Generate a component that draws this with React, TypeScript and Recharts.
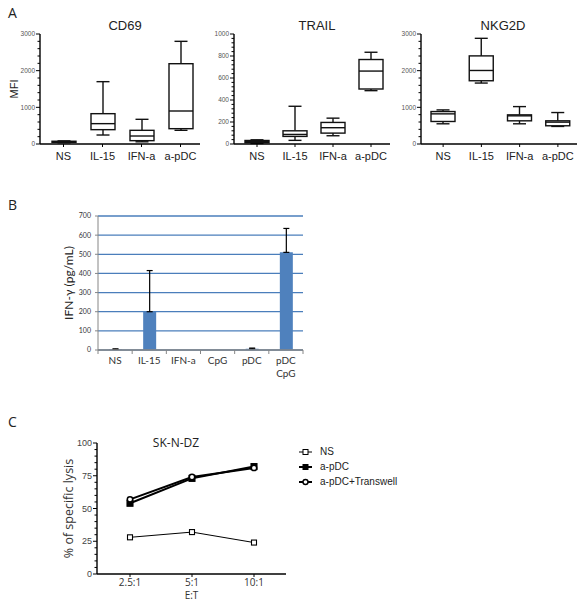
import React from 'react';
import {
  ComposedChart,
  Bar,
  Line,
  XAxis,
  YAxis,
  CartesianGrid,
  ErrorBar,
  Legend,
} from 'recharts';

// ---------- Panel A: surface marker MFI (box plots) ----------
const boxCategories = ['NS', 'IL-15', 'IFN-a', 'a-pDC'];

const cd69Min = [35, 245, 60, 373];
const cd69Q1 = [45, 391, 91, 418];
const cd69Median = [60, 555, 218, 900];
const cd69Q3 = [75, 827, 373, 2190];
const cd69Max = [85, 1700, 673, 2800];

const trailMin = [5, 33, 75, 485];
const trailQ1 = [12, 69, 99, 500];
const trailMedian = [22, 87, 148, 663];
const trailQ3 = [32, 120, 196, 768];
const trailMax = [38, 343, 235, 834];

const nkg2dMin = [551, 1662, 551, 479];
const nkg2dQ1 = [614, 1725, 632, 497];
const nkg2dMedian = [822, 2005, 768, 596];
const nkg2dQ3 = [885, 2403, 795, 632];
const nkg2dMax = [930, 2882, 1020, 858];

const mfiTicks3000 = [0, 200, 400, 600, 800, 1000, 1200, 1400, 1600, 1800, 2000, 2200, 2400, 2600, 2800, 3000];
const mfiLabels3000 = [0, 1000, 2000, 3000];
const mfiTicks1000 = [0, 40, 80, 120, 160, 200, 240, 280, 320, 360, 400, 440, 480, 520, 560, 600, 640, 680, 720, 760, 800, 840, 880, 920, 960, 1000];
const mfiLabels1000 = [0, 200, 400, 600, 800, 1000];

// ---------- Panel B: IFN-gamma secretion ----------
const ifnCategories = ['NS', 'IL-15', 'IFN-a', 'CpG', 'pDC', 'pDC CpG'];
const ifnMeans = [3, 200, 0, 0, 6, 510];
const ifnErrorUp: (number | null)[] = [3, 215, null, null, 4, 125];
const ifnTicks = [0, 100, 200, 300, 400, 500, 600, 700];

// ---------- Panel C: specific lysis of SK-N-DZ ----------
const etRatios = ['2.5:1', '5:1', '10:1'];
const lysisNS = [28, 32, 24];
const lysisAPDC = [54, 73, 82];
const lysisTranswell = [57, 74, 81];
const lysisTicks = [0, 5, 10, 15, 20, 25, 30, 35, 40, 45, 50, 55, 60, 65, 70, 75, 80, 85, 90, 95, 100];
const lysisLabels = [0, 25, 50, 75, 100];

const ARIAL = '"Liberation Sans", Arial, sans-serif';
const CALIBRI = 'Lato, "Open Sans", sans-serif';
const SEGOE = '"Open Sans", "Noto Sans", sans-serif';

function boxRows(min: number[], q1: number[], median: number[], q3: number[], max: number[]) {
  return boxCategories.map((name, i) => ({
    name,
    min: min[i],
    q1: q1[i],
    median: median[i],
    q3: q3[i],
    max: max[i],
    range: [min[i], max[i]],
  }));
}

const cd69Rows = boxRows(cd69Min, cd69Q1, cd69Median, cd69Q3, cd69Max);
const trailRows = boxRows(trailMin, trailQ1, trailMedian, trailQ3, trailMax);
const nkg2dRows = boxRows(nkg2dMin, nkg2dQ1, nkg2dMedian, nkg2dQ3, nkg2dMax);

const ifnRows = ifnCategories.map((name, i) => ({
  name,
  mean: ifnMeans[i],
  err: ifnErrorUp[i] == null ? null : [0, ifnErrorUp[i] as number],
}));

const lysisRows = etRatios.map((name, i) => ({
  name,
  ns: lysisNS[i],
  apdc: lysisAPDC[i],
  transwell: lysisTranswell[i],
}));

// Box-and-whisker drawn inside the [min, max] range bar geometry
const BoxShape = (props: any) => {
  const { x, y, width, height, payload } = props;
  if (!payload) return null;
  const { min, q1, median, q3, max } = payload;
  const span = max - min;
  const ppu = span > 0 ? height / span : 0;
  const py = (v: number) => y + (max - v) * ppu;
  const cx = x + width / 2;
  const cap = 6.5;
  return (
    <g stroke="#111" strokeWidth={1.4} fill="none">
      <line x1={cx} x2={cx} y1={py(max)} y2={py(q3)} />
      <line x1={cx} x2={cx} y1={py(q1)} y2={py(min)} />
      <line x1={cx - cap} x2={cx + cap} y1={py(max)} y2={py(max)} />
      <line x1={cx - cap} x2={cx + cap} y1={py(min)} y2={py(min)} />
      <rect x={x} y={py(q3)} width={width} height={Math.max(py(q1) - py(q3), 0.5)} fill="#fff" />
      <line x1={x} x2={x + width} y1={py(median)} y2={py(median)} />
    </g>
  );
};

// Prism-style y tick: long ticks with labels, short minor ticks
const PrismYTick = (props: any) => {
  const { x, y, payload, labels, fontSize, color } = props;
  const major = labels.includes(payload.value);
  return (
    <g>
      <line x1={x} x2={x - (major ? 4 : 2.5)} y1={y} y2={y} stroke="#000" strokeWidth={1} />
      {major && (
        <text
          x={x - 5}
          y={y}
          dy="0.35em"
          textAnchor="end"
          fontSize={fontSize}
          fill={color}
          fontFamily={ARIAL}
        >
          {payload.value}
        </text>
      )}
    </g>
  );
};

type BoxPanelProps = {
  rows: any[];
  domain: [number, number];
  ticks: number[];
  labels: number[];
  axisX: number;
  plotWidth: number;
  padLeft: number;
  yLabel?: string;
};

function BoxPanel({ rows, domain, ticks, labels, axisX, plotWidth, padLeft, yLabel }: BoxPanelProps) {
  const yAxisW = 30;
  const marginLeft = 10;
  const width = marginLeft + yAxisW + plotWidth + 5;
  return (
    <div style={{ position: 'absolute', left: axisX - marginLeft - yAxisW, top: 0 }}>
      <ComposedChart
        width={width}
        height={170}
        data={rows}
        margin={{ top: 34, right: 5, bottom: 6, left: marginLeft }}
      >
        <XAxis
          dataKey="name"
          height={20}
          interval={0}
          padding={{ left: padLeft, right: 0 }}
          tickSize={3}
          tickMargin={5}
          axisLine={{ stroke: '#000', strokeWidth: 1.4 }}
          tickLine={{ stroke: '#000', strokeWidth: 1 }}
          tick={{ fontSize: 11, fill: '#222', fontFamily: ARIAL }}
        />
        <YAxis
          type="number"
          domain={domain}
          ticks={ticks}
          interval={0}
          width={yAxisW}
          tickSize={0}
          tickMargin={0}
          tickLine={false}
          axisLine={{ stroke: '#000', strokeWidth: 1.4 }}
          tick={(p: any) => <PrismYTick {...p} labels={labels} fontSize={6.5} color="#555" />}
          label={
            yLabel
              ? {
                  value: yLabel,
                  angle: -90,
                  position: 'insideLeft',
                  offset: 4,
                  fontSize: 11,
                  fill: '#222',
                  fontFamily: ARIAL,
                  style: { textAnchor: 'middle' },
                }
              : undefined
          }
        />
        <Bar dataKey="range" barSize={24} shape={<BoxShape />} isAnimationActive={false} />
      </ComposedChart>
    </div>
  );
}

// Excel-style category tick: boundary tick marks and wrapped labels
const ExcelXTick = (props: any) => {
  const { x, y, payload, index, visibleTicksCount } = props;
  const half = payload && typeof payload.offset === 'number' ? payload.offset : 17;
  const lines = String(payload.value).split(' ');
  return (
    <g>
      <line x1={x - half} x2={x - half} y1={y} y2={y + 4} stroke="#868686" strokeWidth={1} />
      {index === visibleTicksCount - 1 && (
        <line x1={x + half} x2={x + half} y1={y} y2={y + 4} stroke="#868686" strokeWidth={1} />
      )}
      <text x={x} y={y + 13.5} textAnchor="middle" fontSize={10} fill="#333" fontFamily={CALIBRI}>
        {lines.map((l, i) => (
          <tspan key={i} x={x} dy={i === 0 ? 0 : 13}>
            {l}
          </tspan>
        ))}
      </text>
    </g>
  );
};

const SquareDot = (props: any) => {
  const { cx, cy, size, filled } = props;
  if (cx == null || cy == null) return null;
  return (
    <rect
      x={cx - size / 2}
      y={cy - size / 2}
      width={size}
      height={size}
      fill={filled ? '#000' : '#fff'}
      stroke="#000"
      strokeWidth={1.1}
    />
  );
};

const CircleDot = (props: any) => {
  const { cx, cy } = props;
  if (cx == null || cy == null) return null;
  return <circle cx={cx} cy={cy} r={2.7} fill="#fff" stroke="#000" strokeWidth={1.5} />;
};

const lysisLegendItems = [
  { key: 'ns', name: 'NS', strokeWidth: 1 },
  { key: 'apdc', name: 'a-pDC', strokeWidth: 2 },
  { key: 'transwell', name: 'a-pDC+Transwell', strokeWidth: 2 },
];

const LysisLegend = () => (
  <div style={{ fontFamily: ARIAL, fontSize: 10, color: '#222' }}>
    {lysisLegendItems.map((item) => (
      <div key={item.key} style={{ display: 'flex', alignItems: 'center', height: 15 }}>
        <svg width={16} height={10} style={{ display: 'block' }}>
          <line x1={1} x2={14} y1={5} y2={5} stroke="#000" strokeWidth={item.strokeWidth} />
          {item.key === 'ns' && <rect x={5} y={2.5} width={5} height={5} fill="#fff" stroke="#000" strokeWidth={1} />}
          {item.key === 'apdc' && <rect x={4.5} y={2} width={6} height={6} fill="#000" />}
          {item.key === 'transwell' && <circle cx={7.5} cy={5} r={2.5} fill="#fff" stroke="#000" strokeWidth={1.4} />}
        </svg>
        <span style={{ marginLeft: 6, lineHeight: '15px' }}>{item.name}</span>
      </div>
    ))}
  </div>
);

export default function App() {
  return (
    <div
      style={{
        position: 'absolute',
        left: 0,
        top: 0,
        width: 586,
        height: 601,
        background: '#fff',
        overflow: 'hidden',
      }}
    >
      {/* Panel A */}
      <BoxPanel
        rows={cd69Rows}
        domain={[0, 3000]}
        ticks={mfiTicks3000}
        labels={mfiLabels3000}
        axisX={40}
        plotWidth={160}
        padLeft={4}
        yLabel="MFI"
      />
      <BoxPanel
        rows={trailRows}
        domain={[0, 1000]}
        ticks={mfiTicks1000}
        labels={mfiLabels1000}
        axisX={234}
        plotWidth={156}
        padLeft={4}
      />
      <BoxPanel
        rows={nkg2dRows}
        domain={[0, 3000]}
        ticks={mfiTicks3000}
        labels={mfiLabels3000}
        axisX={421}
        plotWidth={156}
        padLeft={3}
      />

      {/* Panel B */}
      <div style={{ position: 'absolute', left: 0, top: 190 }}>
        <ComposedChart
          width={320}
          height={200}
          data={ifnRows}
          margin={{ top: 26, right: 17, bottom: 10, left: 68 }}
        >
          <CartesianGrid vertical={false} stroke="#4a7ebb" strokeWidth={1.3} />
          <XAxis
            dataKey="name"
            height={30}
            interval={0}
            tickSize={0}
            tickMargin={0}
            tickLine={false}
            axisLine={{ stroke: '#868686', strokeWidth: 1.3 }}
            tick={(p: any) => <ExcelXTick {...p} />}
          />
          <YAxis
            type="number"
            domain={[0, 700]}
            ticks={ifnTicks}
            interval={0}
            width={30}
            tickSize={3}
            tickMargin={4}
            axisLine={{ stroke: '#868686', strokeWidth: 1 }}
            tickLine={{ stroke: '#868686' }}
            tick={{ fontSize: 7, fill: '#333', fontFamily: CALIBRI }}
            label={{
              value: 'IFN-γ (pg/mL)',
              angle: -90,
              position: 'insideLeft',
              offset: 1,
              fontSize: 12,
              fill: '#222',
              fontFamily: CALIBRI,
              style: { textAnchor: 'middle' },
            }}
          />
          <Bar dataKey="mean" barSize={13} fill="#4f81bd" isAnimationActive={false}>
            <ErrorBar dataKey="err" direction="y" width={3} stroke="#000" strokeWidth={1.2} />
          </Bar>
        </ComposedChart>
      </div>

      {/* Panel C */}
      <div style={{ position: 'absolute', left: 0, top: 400 }}>
        <ComposedChart
          width={586}
          height={201}
          data={lysisRows}
          margin={{ top: 43, right: 300, bottom: 0, left: 67 }}
        >
          <XAxis
            dataKey="name"
            scale="band"
            height={27}
            interval={0}
            padding={{ left: 2, right: 1 }}
            tickSize={3}
            tickMargin={1.5}
            axisLine={{ stroke: '#000', strokeWidth: 1.4 }}
            tickLine={{ stroke: '#000' }}
            tick={{ fontSize: 10, fill: '#333', fontFamily: SEGOE }}
            label={{
              value: 'E:T',
              position: 'insideBottom',
              offset: 2,
              fontSize: 10,
              fill: '#333',
              fontFamily: SEGOE,
            }}
          />
          <YAxis
            type="number"
            domain={[0, 100]}
            ticks={lysisTicks}
            interval={0}
            width={30}
            tickSize={0}
            tickMargin={0}
            tickLine={false}
            axisLine={{ stroke: '#000', strokeWidth: 1.4 }}
            tick={(p: any) => <PrismYTick {...p} labels={lysisLabels} fontSize={9} color="#444" />}
            label={{
              value: '% of specific lysis',
              angle: -90,
              position: 'insideLeft',
              offset: 2,
              fontSize: 12.5,
              fill: '#333',
              fontFamily: SEGOE,
              style: { textAnchor: 'middle' },
            }}
          />
          <Legend
            layout="vertical"
            align="center"
            verticalAlign="middle"
            wrapperStyle={{ left: 298, top: 44, width: 200, height: 45 }}
            content={() => <LysisLegend />}
          />
          <Line
            dataKey="ns"
            name="NS"
            stroke="#000"
            strokeWidth={1}
            dot={<SquareDot size={5} filled={false} />}
            isAnimationActive={false}
          />
          <Line
            dataKey="apdc"
            name="a-pDC"
            stroke="#000"
            strokeWidth={2}
            dot={<SquareDot size={6} filled />}
            isAnimationActive={false}
          />
          <Line
            dataKey="transwell"
            name="a-pDC+Transwell"
            stroke="#000"
            strokeWidth={2}
            dot={<CircleDot />}
            isAnimationActive={false}
          />
        </ComposedChart>
      </div>

      {/* Panel letters and titles */}
      <svg
        width={586}
        height={601}
        style={{ position: 'absolute', left: 0, top: 0, pointerEvents: 'none' }}
      >
        <text x={8} y={18} fontSize={14} fontFamily={SEGOE} fill="#222">A</text>
        <text x={8} y={210} fontSize={14} fontFamily={SEGOE} fill="#222">B</text>
        <text x={8} y={427} fontSize={14} fontFamily={SEGOE} fill="#222">C</text>
        <text x={125} y={30} fontSize={13} fontFamily={ARIAL} fill="#222" textAnchor="middle">CD69</text>
        <text x={317} y={30} fontSize={13} fontFamily={ARIAL} fill="#222" textAnchor="middle">TRAIL</text>
        <text x={503} y={30} fontSize={13} fontFamily={ARIAL} fill="#222" textAnchor="middle">NKG2D</text>
        <text x={176} y={446.5} fontSize={12} fontFamily={SEGOE} fill="#222" textAnchor="middle">SK-N-DZ</text>
      </svg>
    </div>
  );
}
